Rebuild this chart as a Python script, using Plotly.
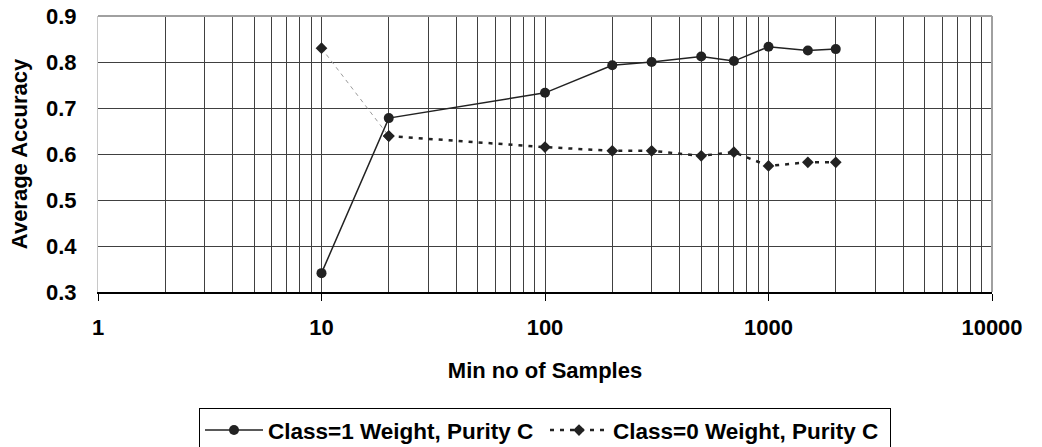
import plotly.graph_objects as go

min_samples = [10, 20, 100, 200, 300, 500, 700, 1000, 1500, 2000]
class1_acc = [0.341, 0.678, 0.733, 0.793, 0.800, 0.812, 0.802, 0.833, 0.825, 0.828]
class0_acc = [0.830, 0.639, 0.615, 0.607, 0.607, 0.596, 0.604, 0.574, 0.582, 0.582]
x_tick_vals = [1, 10, 100, 1000, 10000]
x_tick_text = ["1", "10", "100", "1000", "10000"]
y_tick_vals = [0.3, 0.4, 0.5, 0.6, 0.7, 0.8, 0.9]

FONT = "Liberation Sans, Arial, sans-serif"
INK = "#222222"

fig = go.Figure()
# thin grey first segment of the Class=0 series (as in the reference)
fig.add_trace(go.Scatter(
    x=min_samples[:2], y=class0_acc[:2], mode="lines+markers",
    line=dict(color="#9a9a9a", width=1, dash="4px,4px"),
    marker=dict(symbol="diamond", size=9, color=INK),
    showlegend=False, hoverinfo="skip",
))
fig.add_trace(go.Scatter(
    x=min_samples, y=class1_acc, mode="lines+markers",
    name="<b>Class=1 Weight, Purity C</b>",
    line=dict(color=INK, width=1.5),
    marker=dict(symbol="circle", size=10, color=INK),
))
fig.add_trace(go.Scatter(
    x=min_samples[1:], y=class0_acc[1:], mode="lines+markers",
    name="<b>Class=0 Weight, Purity C</b>",
    line=dict(color=INK, width=2.5, dash="4px,6px"),
    marker=dict(symbol="diamond", size=9, color=INK),
))

fig.update_layout(
    width=1042, height=447,
    margin=dict(l=98, r=50, t=16, b=155, autoexpand=False),
    paper_bgcolor="white", plot_bgcolor="white",
    font=dict(family=FONT, size=22, color="black"),
    showlegend=True,
    legend=dict(
        orientation="h", x=0.5, xanchor="center", y=-0.42, yanchor="top",
        bordercolor="black", borderwidth=1,
        font=dict(family=FONT, size=22.5, color="black"),
        itemwidth=58, tracegroupgap=0,
        entrywidth=272, entrywidthmode="pixels",
    ),
    xaxis=dict(
        type="log", range=[0, 4],
        tickvals=x_tick_vals, ticktext=["<b>%s</b>" % t for t in x_tick_text],
        tickfont=dict(family=FONT, size=22),
        ticks="outside", ticklen=7, tickcolor="black", ticklabelstandoff=8,
        showline=True, linecolor="black", linewidth=1.5,
        showgrid=True, gridcolor="#404040", gridwidth=1,
        minor=dict(showgrid=True, gridcolor="#404040", gridwidth=1, dtick="D1", ticks=""),
        title=dict(text="<b>Min no of Samples</b>", standoff=23,
                   font=dict(family=FONT, size=22)),
        zeroline=False, automargin=False,
    ),
    yaxis=dict(
        range=[0.3, 0.9], tickvals=y_tick_vals,
        ticktext=["<b>%.1f</b>" % v for v in y_tick_vals],
        tickfont=dict(family=FONT, size=22),
        ticks="", ticklabelstandoff=16,
        showline=True, linecolor="#c8c8c8", linewidth=1,
        showgrid=True, gridcolor="#404040", gridwidth=1,
        title=dict(text="<b>Average Accuracy</b>", standoff=12,
                   font=dict(family=FONT, size=22)),
        zeroline=False, automargin=False,
    ),
    shapes=[
        dict(type="line", xref="paper", yref="paper", x0=0, x1=1, y0=1, y1=1,
             line=dict(color="#a0a0a0", width=2)),
        dict(type="line", xref="paper", yref="paper", x0=1, x1=1, y0=0, y1=1,
             line=dict(color="#a0a0a0", width=2)),
    ],
)

fig.write_html("out.html")
